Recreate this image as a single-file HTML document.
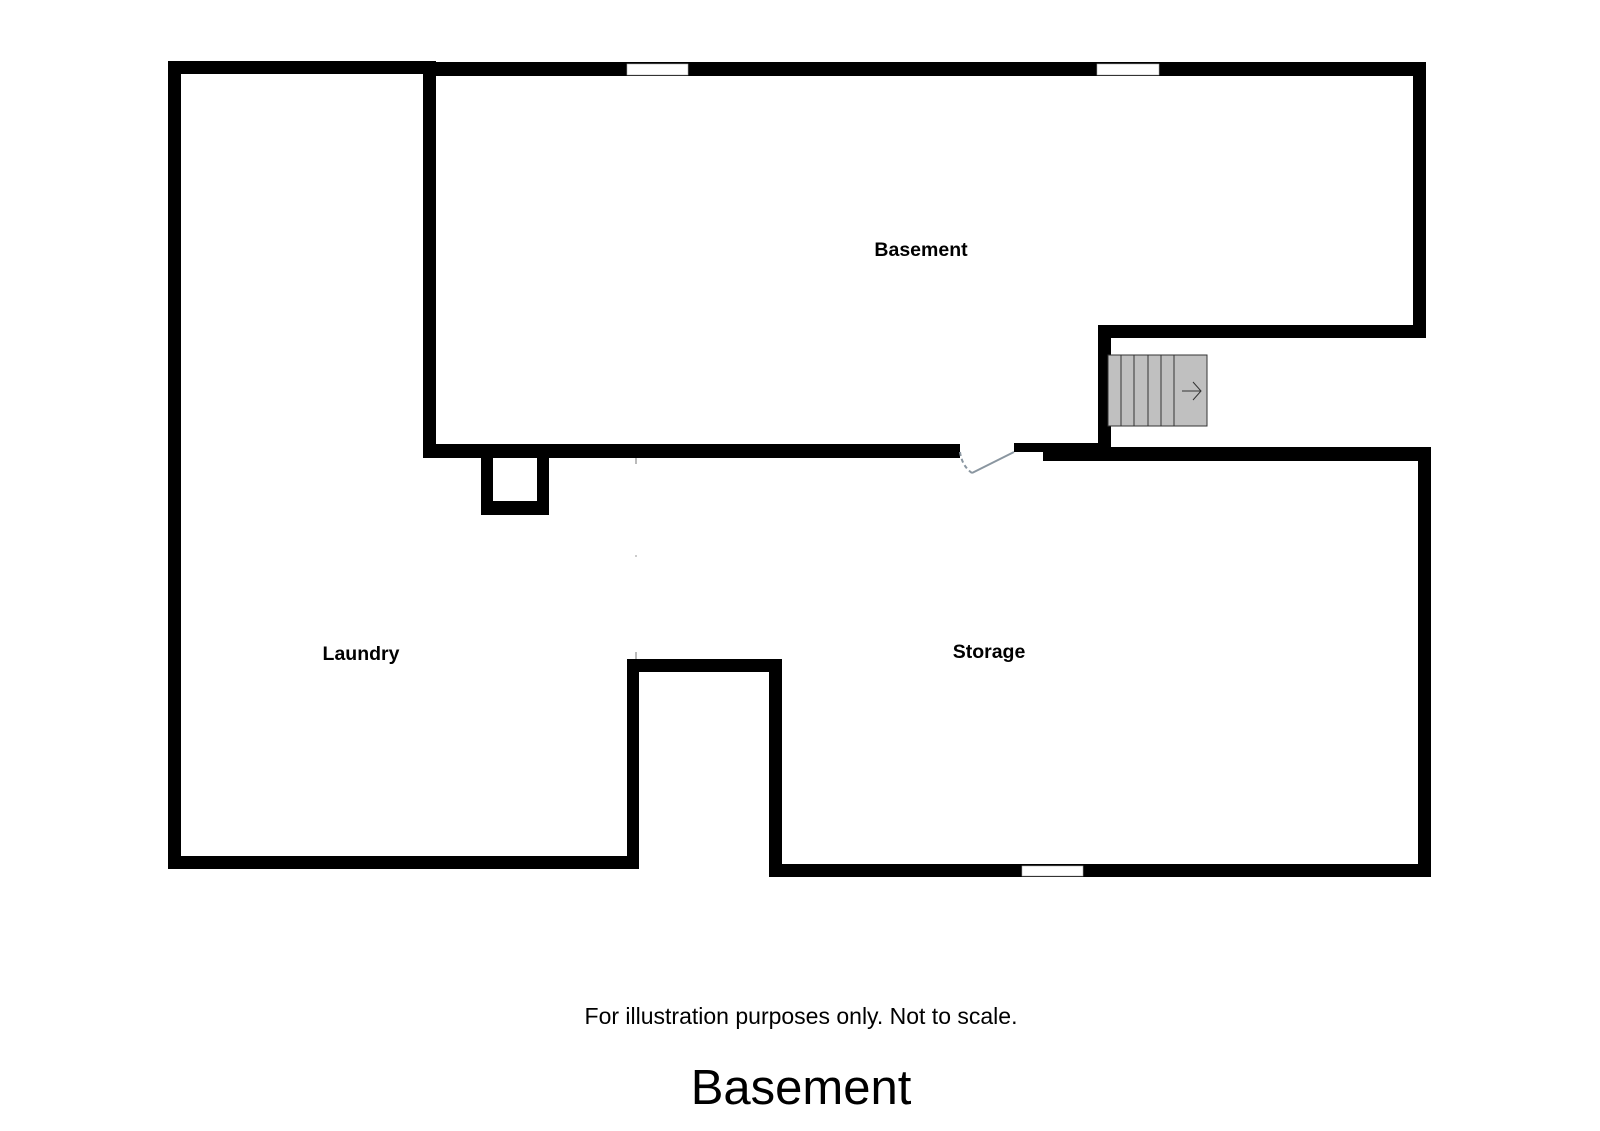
<!DOCTYPE html>
<html><head><meta charset="utf-8"><style>html,body{margin:0;padding:0;background:#fff}svg{display:block}</style></head>
<body>
<svg width="1600" height="1131" viewBox="0 0 1600 1131" xmlns="http://www.w3.org/2000/svg">
<g fill="#000">
<rect x="168" y="61" width="268" height="13"/>
<rect x="168" y="61" width="13" height="808"/>
<rect x="168" y="856" width="471" height="13"/>
<rect x="627" y="659" width="12" height="210"/>
<rect x="627" y="659" width="155" height="13"/>
<rect x="769" y="659" width="13" height="218"/>
<rect x="769" y="864" width="662" height="13"/>
<rect x="1418" y="447" width="13" height="430"/>
<rect x="423" y="62" width="13" height="396"/>
<rect x="423" y="62" width="1003" height="14"/>
<rect x="1413" y="62" width="13" height="276"/>
<rect x="1098" y="325" width="328" height="13"/>
<rect x="1098" y="325" width="13" height="136"/>
<rect x="423" y="444" width="537" height="14"/>
<rect x="481" y="444" width="12" height="71"/>
<rect x="537" y="444" width="12" height="71"/>
<rect x="481" y="501" width="68" height="14"/>
<rect x="1014" y="443" width="84" height="9"/>
<rect x="1043" y="447" width="388" height="14"/>
</g>
<rect x="627" y="64" width="61" height="11" fill="#fff" stroke="#aaa" stroke-width="0.6"/>
<rect x="1097" y="64" width="62" height="11" fill="#fff" stroke="#aaa" stroke-width="0.6"/>
<rect x="1022" y="866" width="61" height="10" fill="#fff" stroke="#aaa" stroke-width="0.6"/>
<line x1="1014" y1="452" x2="972" y2="473" stroke="#8a96a0" stroke-width="2"/>
<path d="M960 452 Q962 466 972 473" fill="none" stroke="#8a96a0" stroke-width="2" stroke-dasharray="4,3"/>
<line x1="636" y1="458" x2="636" y2="464" stroke="#777" stroke-width="1"/>
<line x1="636" y1="555" x2="636" y2="557" stroke="#999" stroke-width="1"/>
<line x1="636" y1="652" x2="636" y2="659" stroke="#777" stroke-width="1"/>
<rect x="1108" y="355" width="99" height="71" fill="#c0c0c0" stroke="#333" stroke-width="1"/>
<g stroke="#333" stroke-width="1">
<line x1="1121" y1="355" x2="1121" y2="426"/>
<line x1="1134" y1="355" x2="1134" y2="426"/>
<line x1="1148" y1="355" x2="1148" y2="426"/>
<line x1="1161" y1="355" x2="1161" y2="426"/>
<line x1="1174" y1="355" x2="1174" y2="426"/>
<line x1="1182" y1="391" x2="1201" y2="391"/>
<polyline points="1193,382 1201,391 1193,400" fill="none"/>
</g>
<g font-family="Liberation Sans, sans-serif" text-anchor="middle" fill="#000">
<text x="921" y="256" font-size="19.5" font-weight="bold">Basement</text>
<text x="361" y="660" font-size="19.5" font-weight="bold">Laundry</text>
<text x="989" y="658" font-size="19.5" font-weight="bold">Storage</text>
<text x="801" y="1024" font-size="23">For illustration purposes only. Not to scale.</text>
<text x="801" y="1104" font-size="49">Basement</text>
</g>
</svg>
</body></html>
